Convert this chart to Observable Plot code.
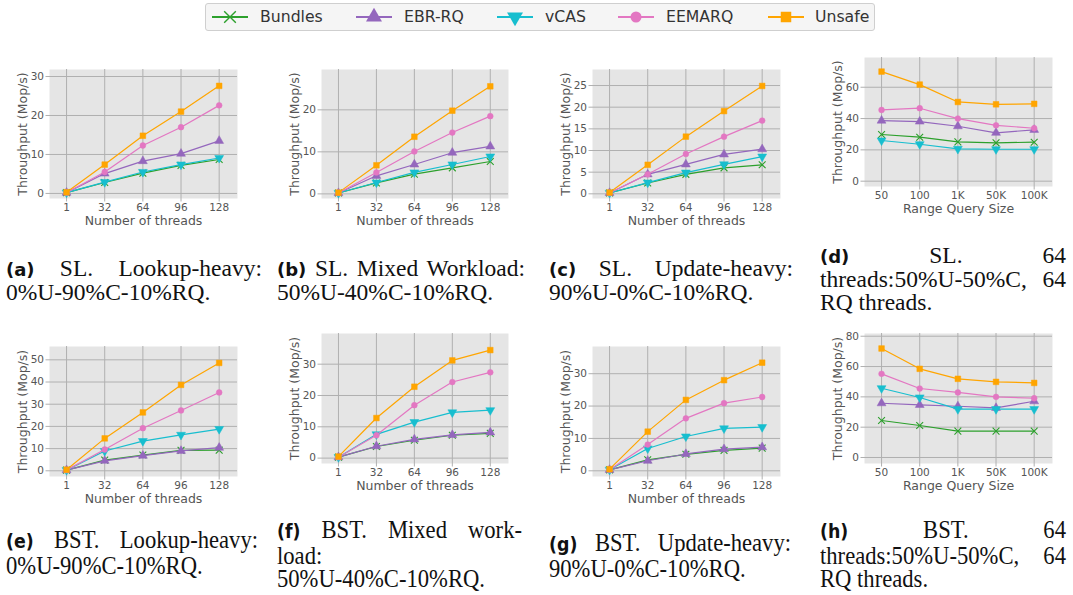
<!DOCTYPE html>
<html><head><meta charset="utf-8">
<script src="https://cdn.jsdelivr.net/npm/d3@7"></script>
<script src="https://cdn.jsdelivr.net/npm/@observablehq/plot@0.6"></script>
<style>
body{margin:0;background:#fff;}
#root{position:relative;width:1073px;height:595px;overflow:hidden;background:#fff;font-family:"DejaVu Sans";}
#legend{position:absolute;left:205px;top:3px;width:670px;height:28px;box-sizing:border-box;border:1px solid #cfcfcf;border-radius:3px;background:#f5f5f5;}
.li{position:absolute;top:0;height:26px;line-height:26px;font-size:15.7px;color:#333;white-space:nowrap;}
.cap{position:absolute;font-family:"Liberation Serif";font-size:23.5px;line-height:22.5px;color:#111;text-align:justify;}
.cap b{font-family:"DejaVu Sans";font-weight:bold;font-size:18px;}
.cap.c{font-size:26px;line-height:23.5px;transform:scaleX(0.87);transform-origin:0 0;}
.cap.c b{font-size:20px;}
.nw{white-space:nowrap;}
.jl{display:block;text-align:justify;text-align-last:justify;}
</style></head>
<body><div id="root"><div id="legend"></div></div>
<script>
// ---- data ----
const threads = ["1", "32", "64", "96", "128"];
const rqSizes = ["50", "100", "1K", "50K", "100K"];
const algos = ["Bundles", "EBR-RQ", "vCAS", "EEMARQ", "Unsafe"];
const colors = ["#2ca02c", "#9467bd", "#17becf", "#e377c2", "#ffa500"];
const yTitle = "Throughput (Mop/s)";
// rows: Bundles, EBR-RQ, vCAS, EEMARQ, Unsafe
const slLookupHeavy = [[0.2,2.8,5.2,7.2,8.7],[0.2,5.1,8.3,10.2,13.5],[0.2,2.9,5.5,7.4,9.1],[0.2,5.5,12.3,17.0,22.6],[0.3,7.4,14.8,21.0,27.6]];
const slMixed = [[0.2,2.6,4.7,6.2,7.7],[0.2,4.3,7.0,9.8,11.3],[0.2,2.7,5.1,7.0,8.9],[0.2,5.1,10.1,14.6,18.5],[0.3,6.8,13.6,19.8,25.6]];
const slUpdateHeavy = [[0.2,2.5,4.5,6.0,6.7],[0.2,4.5,6.8,9.1,10.3],[0.2,2.6,4.9,6.8,8.6],[0.2,4.5,9.2,13.2,16.9],[0.3,6.7,13.2,19.1,24.9]];
const slRange = [[29.8,28.1,25.1,24.5,24.9],[38.7,38.1,35.1,30.9,32.8],[26.0,23.6,20.6,20.4,20.4],[45.5,46.6,40.0,35.7,33.8],[70.0,61.7,50.6,49.1,49.4]];
const bstLookupHeavy = [[0.3,4.8,7.1,9.2,9.3],[0.3,4.5,6.8,9.0,10.4],[0.3,8.9,13.4,16.2,18.8],[0.3,9.6,19.2,27.2,35.3],[0.5,14.6,26.3,38.7,48.6]];
const bstMixed = [[0.3,3.7,5.7,7.3,7.9],[0.3,3.8,6.0,7.4,8.2],[0.3,7.6,11.5,14.6,15.3],[0.3,7.3,16.9,24.3,27.4],[0.5,12.8,22.8,31.2,34.5]];
const bstUpdateHeavy = [[0.3,3.4,5.1,6.3,7.0],[0.3,3.1,5.2,6.7,7.3],[0.3,6.9,10.6,13.1,13.5],[0.3,8.1,16.2,20.9,22.8],[0.5,12.1,21.9,28.0,33.4]];
const bstRange = [[24.4,21.1,17.4,17.4,17.4],[35.8,34.7,33.8,32.7,37.1],[45.7,39.6,31.9,31.9,31.9],[55.2,45.5,42.9,40.0,39.1],[71.9,58.5,51.9,49.9,49.2]];
const ticksA = [0,10,20,30], ticksB = [0,10,20], ticksC = [0,5,10,15,20,25], ticksD = [0,20,40,60];
const ticksE = [0,10,20,30,40,50], ticksF = [0,10,20,30], ticksG = [0,10,20,30], ticksH = [0,20,40,60,80];

// ---- layout ----
const panels = [
  {frame:[49,69,237,198], y:[-1.3,31.8], ticks:ticksA, xl:threads, xt:"Number of threads", v:slLookupHeavy},
  {frame:[321,69,508,198], y:[-1.1,29.6], ticks:ticksB, xl:threads, xt:"Number of threads", v:slMixed},
  {frame:[592,69,780,198], y:[-1.08,28.7], ticks:ticksC, xl:threads, xt:"Number of threads", v:slUpdateHeavy},
  {frame:[864,57,1052,186], y:[-3.4,79], ticks:ticksD, xl:rqSizes, xt:"Range Query Size", v:slRange},
  {frame:[49,346,237,476], y:[-2.57,56], ticks:ticksE, xl:threads, xt:"Number of threads", v:bstLookupHeavy},
  {frame:[321,333,508,463], y:[-1.72,39.8], ticks:ticksF, xl:threads, xt:"Number of threads", v:bstMixed},
  {frame:[592,346,780,476], y:[-1.76,38.4], ticks:ticksG, xl:threads, xt:"Number of threads", v:bstUpdateHeavy},
  {frame:[864,333,1052,463], y:[-3.96,81.8], ticks:ticksH, xl:rqSizes, xt:"Range Query Size", v:bstRange}
];
const symbols = [
  {symbol:"times", rotate:0, filled:false, r:3.2},
  {symbol:"triangle", rotate:0, filled:true, r:3.3},
  {symbol:"triangle", rotate:180, filled:true, r:3.3},
  {symbol:"circle", rotate:0, filled:true, r:2.9},
  {symbol:"square", rotate:0, filled:true, r:3.2}
];

const root = document.getElementById("root");
const mL = 52, mR = 12, mT = 8, mB = 40;

for (const p of panels) {
  const [L, T, R, B] = p.frame;
  const marks = [
    Plot.frame({fill:"#e5e5e5", stroke:"none"}),
    Plot.gridX([0,1,2,3,4], {stroke:"#b0b0b0", strokeOpacity:1, strokeWidth:1}),
    Plot.gridY(p.ticks, {stroke:"#b0b0b0", strokeOpacity:1, strokeWidth:1}),
    Plot.axisX([0,1,2,3,4], {tickFormat:i => p.xl[i], tickSize:3.5, tickPadding:2, stroke:"#b0b0b0", fill:"#555", fontSize:10.5, label:null}),
    Plot.axisY(p.ticks, {tickSize:3.5, tickPadding:2, stroke:"#b0b0b0", fill:"#555", fontSize:10.5, label:null}),
    Plot.text([p.xt], {frameAnchor:"bottom", dy:22.5, text:d => d, fontSize:12.5, fill:"#555", textAnchor:"middle", lineAnchor:"middle"}),
    Plot.text([yTitle], {frameAnchor:"left", dx:-27, rotate:-90, text:d => d, fontSize:12.5, fill:"#555", textAnchor:"middle", lineAnchor:"middle"})
  ];
  algos.forEach((a, k) => {
    const rows = p.v[k].map((val, i) => ({algo:a, i, val}));
    marks.push(Plot.line(rows, {x:"i", y:"val", stroke:colors[k], strokeWidth:1.2}));
    const s = symbols[k];
    marks.push(Plot.dot(rows, {x:"i", y:"val", symbol:s.symbol, rotate:s.rotate, r:s.r,
      fill: s.filled ? colors[k] : "none", stroke: colors[k], strokeWidth: s.filled ? 0.5 : 1.1}));
  });
  const svg = Plot.plot({
    width: R - L + mL + mR, height: B - T + mT + mB,
    marginLeft: mL, marginRight: mR, marginTop: mT, marginBottom: mB,
    style: {fontFamily:"DejaVu Sans", background:"transparent", overflow:"visible", color:"#555"},
    x: {type:"linear", domain:[-0.447, 4.48]},
    y: {domain:p.y},
    marks
  });
  svg.style.position = "absolute";
  svg.style.left = (L - mL) + "px";
  svg.style.top = (T - mT) + "px";
  root.appendChild(svg);
}

// ---- legend ----
const legend = document.getElementById("legend");
const legPos = [[5, 54], [149, 198], [290, 339], [411, 460], [561, 609]];
const NS = "http://www.w3.org/2000/svg";
algos.forEach((a, k) => {
  const [lx, tx] = legPos[k];
  const svg = document.createElementNS(NS, "svg");
  svg.setAttribute("width", 38); svg.setAttribute("height", 26);
  svg.style.position = "absolute"; svg.style.left = lx + "px"; svg.style.top = "0px";
  const ln = document.createElementNS(NS, "line");
  ln.setAttribute("x1", 1); ln.setAttribute("x2", 37); ln.setAttribute("y1", 13); ln.setAttribute("y2", 13);
  ln.setAttribute("stroke", colors[k]); ln.setAttribute("stroke-width", 2);
  svg.appendChild(ln);
  const s = symbols[k];
  const path = document.createElementNS(NS, "path");
  const typeMap = {times:d3.symbolTimes, triangle:d3.symbolTriangle, circle:d3.symbolCircle, square:d3.symbolSquare};
  const size = s.symbol === "circle" ? 95 : s.symbol === "times" ? 90 : 110;
  path.setAttribute("d", d3.symbol(typeMap[s.symbol], size)());
  path.setAttribute("transform", `translate(19,13) rotate(${s.rotate})`);
  if (s.filled) { path.setAttribute("fill", colors[k]); }
  else { path.setAttribute("fill", "none"); path.setAttribute("stroke", colors[k]); path.setAttribute("stroke-width", 1.4); }
  svg.appendChild(path);
  legend.appendChild(svg);
  const t = document.createElement("div");
  t.className = "li"; t.style.left = tx + "px"; t.textContent = a;
  legend.appendChild(t);
});

// ---- captions: [left, first-line centre y, width, html, condensed] ----
const caps = [
  [6, 268, 256, '<b>(a)</b> SL. Lookup-heavy: <span class="nw">0%U-90%C-10%RQ.</span>', false],
  [277, 268, 248, '<b>(b)</b> SL. Mixed Workload: <span class="nw">50%U-40%C-10%RQ.</span>', false],
  [549, 268, 244, '<b>(c)</b> SL. Update-heavy: <span class="nw">90%U-0%C-10%RQ.</span>', false],
  [820, 255, 246, '<b>(d)</b> SL. 64 <span class="nw">threads:50%U-50%C,</span> 64 RQ threads.', false],
  [6, 540, 252, '<b>(e)</b> BST. Lookup-heavy: <span class="nw">0%U-90%C-10%RQ.</span>', true],
  [277, 530, 245, '<span class="jl"><b>(f)</b> BST. Mixed work-</span>load:<br><span class="nw">50%U-40%C-10%RQ.</span>', true],
  [549, 543, 242, '<b>(g)</b> BST. Update-heavy: <span class="nw">90%U-0%C-10%RQ.</span>', true],
  [820, 530, 246, '<b>(h)</b> BST. 64 <span class="nw">threads:50%U-50%C,</span> 64 RQ threads.', true]
];
for (const [x, yc, w, html, cond] of caps) {
  const d = document.createElement("div");
  d.className = "cap" + (cond ? " c" : "");
  const lh = cond ? 23.5 : 22.5;
  d.style.left = x + "px";
  d.style.top = (yc - lh / 2) + "px";
  d.style.width = (cond ? w / 0.87 : w) + "px";
  d.innerHTML = html;
  root.appendChild(d);
}
</script></body></html>
